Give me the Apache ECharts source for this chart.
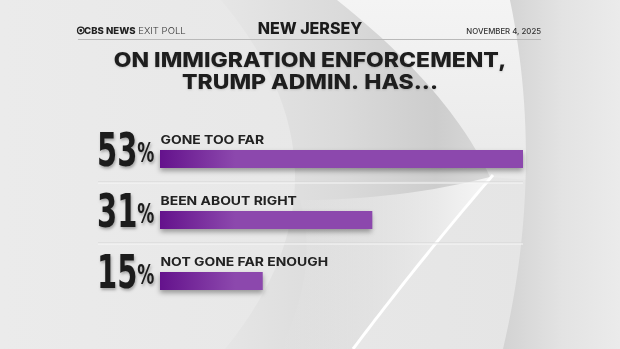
<!DOCTYPE html>
<html>
<head>
<meta charset="utf-8">
<script src="https://cdn.jsdelivr.net/npm/echarts@6/dist/echarts.min.js"></script>
<style>
html,body{margin:0;padding:0;background:#e9e9e9;}
#c{width:620px;height:349px;}
</style>
</head>
<body>
<div id="c"></div>
<script>
var categories = ['GONE TOO FAR', 'BEEN ABOUT RIGHT', 'NOT GONE FAR ENOUGH'];
var values = [53, 31, 15];
var headerState = 'NEW JERSEY';
var headerDate = 'NOVEMBER 4, 2025';
var titleLines = ['ON IMMIGRATION ENFORCEMENT,', 'TRUMP ADMIN. HAS...'];

var chart = echarts.init(document.getElementById('c'), null, {renderer: 'canvas'});

// background decoration helper: sample quadratic curves into polygon points
function quad(p0, c, p1, n) {
  var pts = [];
  for (var i = 0; i <= n; i++) {
    var t = i / n, u = 1 - t;
    pts.push([u * u * p0[0] + 2 * u * t * c[0] + t * t * p1[0], u * u * p0[1] + 2 * u * t * c[1] + t * t * p1[1]]);
  }
  return pts;
}
function lg(x1, y1, x2, y2, stops) {
  return {type: 'linear', x: x1, y: y1, x2: x2, y2: y2, global: true,
    colorStops: stops.map(function (s) { return {offset: s[0], color: s[1]}; })};
}

var topLight = [[330, 0], [510, 0]].concat(quad([510, 0], [540, 90], [528, 180], 20))
  .concat(quad([490, 177], [450, 90], [330, 0], 20));
var crescent = [[221, 0]].concat(quad([337, 0], [450, 90], [490, 177], 24))
  .concat(quad([490, 177], [420, 260], [353, 349], 24))
  .concat(quad([225, 349], [367, 175], [221, 0], 30));
var glow = quad([300, 200], [400, 200], [490, 177], 16)
  .concat(quad([490, 177], [420, 260], [353, 349], 16))
  .concat([[280, 349]]).concat(quad([280, 349], [320, 270], [300, 200], 12));
var whiteLine = quad([493, 175], [420, 260], [353, 349], 30);
var rightRegion = quad([510, 0], [545, 170], [503, 349], 30).concat([[620, 349], [620, 0]]);

var labelData = values.map(function (v, i) { return [v, i]; });

function renderLabels(params, api) {
  var idx = api.value(1);
  var v = api.value(0);
  var c = api.coord([0, idx]);
  var barTop = c[1] - 9;
  return {
    type: 'group',
    children: [
      {type: 'text', x: c[0] - 63, y: c[1] + 18, scaleX: 0.63,
       style: {text: '{n|' + v + '}{p|%}', align: 'left', verticalAlign: 'bottom',
         rich: {
           n: {fontFamily: 'DejaVu Sans', fontWeight: 'bold', fontSize: 46, fill: '#1c1c1c',
               textShadowColor: 'rgba(0,0,0,0.3)', textShadowBlur: 3, textShadowOffsetX: 1, textShadowOffsetY: 2},
           p: {fontFamily: 'DejaVu Sans', fontWeight: 'bold', fontSize: 27, fill: '#1c1c1c', padding: [0, 0, -2, 0],
               textShadowColor: 'rgba(0,0,0,0.3)', textShadowBlur: 3, textShadowOffsetX: 1, textShadowOffsetY: 2}
         }}},
      {type: 'text', x: c[0] + 0.5, y: barTop - 3.5, scaleX: 1.16,
       style: {text: categories[idx], align: 'left', verticalAlign: 'bottom',
         font: '700 12px Inter', fill: '#222'}}
    ]
  };
}

var option = {
  backgroundColor: 'transparent',
  animation: false,
  graphic: [
    {type: 'rect', z: -10, shape: {x: 0, y: 0, width: 620, height: 349},
     style: {fill: lg(0, 0, 620, 0, [[0, '#ebebeb'], [1, '#e4e4e4']])}},
    {type: 'polygon', z: -9, shape: {points: topLight},
     style: {fill: lg(0, 0, 0, 180, [[0, '#f4f4f4'], [1, '#e9e9e9']])}},
    {type: 'polygon', z: -8, shape: {points: crescent},
     style: {fill: lg(221, 0, 490, 0, [[0, '#e6e6e6'], [0.45, '#dadada'], [0.8, '#cdcdcd'], [1, '#d9d9d9']])}},
    {type: 'polygon', z: -7, shape: {points: glow},
     style: {fill: lg(280, 0, 490, 0, [[0, 'rgba(240,240,240,0)'], [1, 'rgba(247,247,247,0.95)']])}},
    {type: 'polyline', z: -6, shape: {points: whiteLine},
     style: {stroke: '#ffffff', lineWidth: 3}},
    {type: 'polygon', z: -8, shape: {points: rightRegion},
     style: {fill: lg(505, 0, 620, 0, [[0, '#d3d3d3'], [0.5, '#e3e3e3'], [1, '#ebebeb']])}},
    // header rule
    {type: 'line', z: 1, shape: {x1: 78, y1: 39.5, x2: 541, y2: 39.5}, style: {stroke: '#b9b9b9', lineWidth: 1}},
    // row separators
    {type: 'line', z: 1, shape: {x1: 98, y1: 182, x2: 523, y2: 182}, style: {stroke: '#d4d4d4', lineWidth: 1}},
    {type: 'line', z: 1, shape: {x1: 98, y1: 183, x2: 523, y2: 183}, style: {stroke: '#f8f8f8', lineWidth: 1}},
    {type: 'line', z: 1, shape: {x1: 98, y1: 243, x2: 523, y2: 243}, style: {stroke: '#d4d4d4', lineWidth: 1}},
    {type: 'line', z: 1, shape: {x1: 98, y1: 244, x2: 523, y2: 244}, style: {stroke: '#f8f8f8', lineWidth: 1}},
    // CBS eye
    {type: 'circle', z: 2, shape: {cx: 80.8, cy: 30.5, r: 3.3}, style: {fill: null, stroke: '#222', lineWidth: 1.3}},
    {type: 'circle', z: 2, shape: {cx: 80.8, cy: 30.5, r: 1.4}, style: {fill: '#222'}},
    // main title
    {type: 'text', z: 3, x: 310, y: 50, scaleX: 1.12,
     style: {text: titleLines.join('\n'), align: 'center', verticalAlign: 'top',
       font: '800 20.5px Inter', lineHeight: 21.7, fill: '#1e1e1e',
       textShadowColor: 'rgba(0,0,0,0.15)', textShadowBlur: 2, textShadowOffsetY: 1}}
  ],
  title: [
    {text: '{b|CBS NEWS}{l| EXIT POLL}', left: 79, top: 21.5,
     textStyle: {rich: {
       b: {fontFamily: 'Inter', fontWeight: 800, fontSize: 9.6, color: '#222'},
       l: {fontFamily: 'Inter', fontWeight: 300, fontSize: 9.6, color: '#333'}}}},
    {text: headerState, left: 'center', top: 16.5,
     textStyle: {fontFamily: 'Inter', fontWeight: 800, fontSize: 16, color: '#1b1b1b'}},
    {text: headerDate, right: 74, top: 23,
     textStyle: {fontFamily: 'Inter', fontWeight: 500, fontSize: 7.8, color: '#333'}}
  ],
  grid: {left: 160, right: 97, top: 128.5, height: 183, containLabel: false},
  xAxis: {type: 'value', min: 0, max: 53, show: false},
  yAxis: {type: 'category', data: categories, inverse: true, show: false},
  series: [
    {type: 'bar', data: values, barWidth: 18, z: 3,
     itemStyle: {color: lg(160, 0, 235, 0, [[0, '#64128c'], [1, '#8c48ad']]),
       shadowColor: 'rgba(0,0,0,0.35)', shadowBlur: 5, shadowOffsetY: 3}},
    {type: 'custom', data: labelData, encode: {x: 0, y: 1}, z: 4, clip: false,
     renderItem: renderLabels}
  ]
};
chart.setOption(option);
</script>
</body>
</html>
